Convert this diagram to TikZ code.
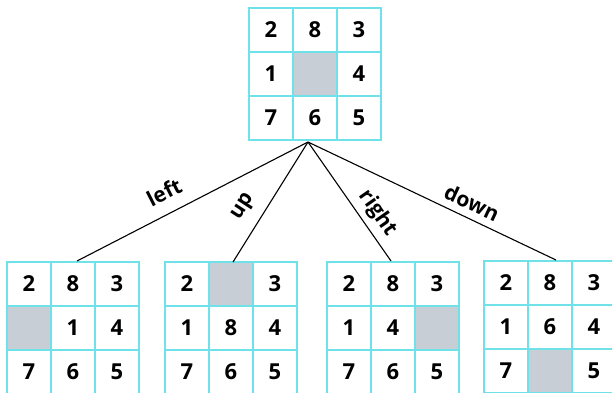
\documentclass[tikz,border=0pt]{standalone}
\usepackage{fontspec}
\setmainfont{Open Sans}
\usetikzlibrary{calc}
\definecolor{cellline}{HTML}{6EE2E8}
\definecolor{blankgray}{HTML}{C8CED6}
\tikzset{
  cell/.style={draw=cellline, line width=1.6pt, fill=white, minimum size=44pt, inner sep=0pt,
    font=\fontsize{22}{22}\selectfont\bfseries},
  blankcell/.style={cell, fill=blankgray},
  edge/.style={draw=black, line width=1.1pt},
  movelabel/.style={font=\fontsize{21}{21}\selectfont\bfseries, inner sep=0pt}
}
\newcommand\puzgrid[4]{% name, top-left x, top-left y, blank index; entries in \entries
  \foreach \v [count=\i from 0] in \entries {
    \pgfmathtruncatemacro\r{int(\i/3)}
    \pgfmathtruncatemacro\c{mod(\i,3)}
    \ifnum\i=#4\relax
      \node[blankcell] (#1-\i) at (#2+\c*44+22, #3+\r*44+22) {};
    \else
      \node[cell] (#1-\i) at (#2+\c*44+22, #3+\r*44+22) {\v};
    \fi
  }}
\begin{document}
\begin{tikzpicture}[x=1pt, y=-1pt]
\useasboundingbox (0,0) rectangle (612,392);
% root grid
\def\entries{2,8,3,1,,4,7,6,5}
\puzgrid{top}{249}{8}{4}
% children
\def\entries{2,8,3,,1,4,7,6,5}
\puzgrid{ga}{7}{262}{3}
\def\entries{2,,3,1,8,4,7,6,5}
\puzgrid{gb}{165}{262}{1}
\def\entries{2,8,3,1,4,,7,6,5}
\puzgrid{gc}{327}{262}{5}
\def\entries{2,8,3,1,6,4,7,,5}
\puzgrid{gd}{484}{261}{7}
% connectors
\coordinate (root) at (308,142);
\coordinate (ea) at (77,261);
\coordinate (eb) at (233,262);
\coordinate (ec) at (391,261);
\coordinate (ed) at (556,260);
\draw[edge] (root) -- (ea);
\draw[edge] (root) -- (eb);
\draw[edge] (root) -- (ec);
\draw[edge] (root) -- (ed);
% labels
\node[movelabel, rotate=27] (lleft) at (164,192) {left};
\node[movelabel, rotate=57] (lup) at (244,207) {up};
\node[movelabel, rotate=-55] (lright) at (378,213) {right};
\node[movelabel, rotate=-25] (ldown) at (472,203) {down};
\end{tikzpicture}
\end{document}
